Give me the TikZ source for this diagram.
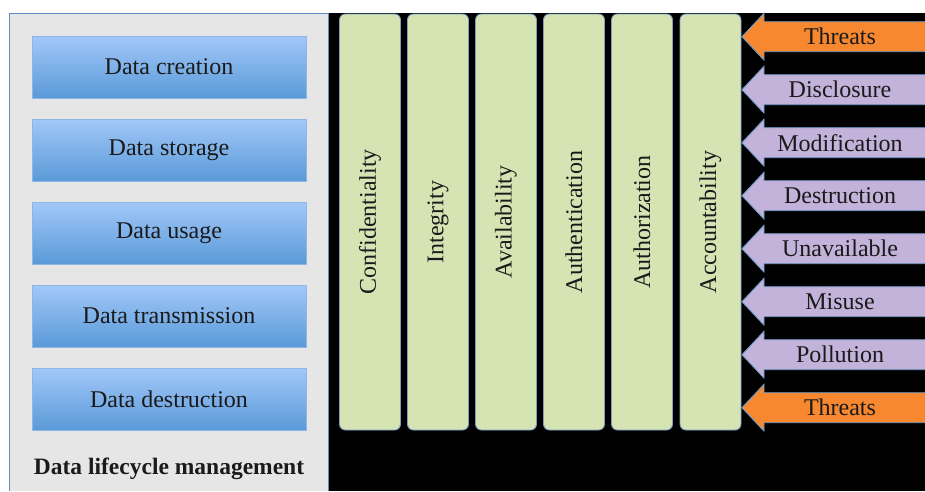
\documentclass[tikz,border=0pt]{standalone}
\usepackage{fontspec}
\setmainfont{Liberation Serif}
\definecolor{panelgray}{HTML}{E6E6E6}
\definecolor{panelline}{HTML}{5E8DC8}
\definecolor{boxtop}{HTML}{A2C8F9}
\definecolor{boxbot}{HTML}{5A9AD8}
\definecolor{boxline}{HTML}{8DB6E6}
\definecolor{colgreen}{HTML}{D6E4B4}
\definecolor{colline}{HTML}{7B9FC9}
\definecolor{thorange}{HTML}{F7882F}
\definecolor{thlav}{HTML}{C3B2D9}
\definecolor{arrline}{HTML}{6E9CCB}
\definecolor{txt}{HTML}{1A1A1A}
\tikzset{
  lifebox/.style={draw=boxline, line width=0.8pt, top color=boxtop, bottom color=boxbot,
    minimum width=274pt, minimum height=62pt, inner sep=0pt, text=txt,
    font=\fontsize{24}{28}\selectfont},
  pillar/.style={draw=colline, line width=0.9pt, fill=colgreen, rounded corners=6pt,
    minimum width=416pt, minimum height=61pt, inner sep=0pt, rotate=90, text=txt,
    font=\fontsize{24}{28}\selectfont},
  arrtext/.style={inner sep=0pt, text=txt, font=\fontsize{24}{28}\selectfont},
  arrfill/.style={line width=0.9pt, draw=arrline}
}
\newcommand{\threatarrow}[4]{%
  \fill[#2] (925,#1-15) -- (764,#1-15) -- (764,#1-23.4) -- (742,#1) -- (764,#1+23.4) -- (764,#1+15) -- (925,#1+15) -- cycle;
  \draw[arrfill] (925,#1-15) -- (764,#1-15) -- (764,#1-23.4) -- (742,#1) -- (764,#1+23.4) -- (764,#1+15) -- (925,#1+15);
  \node[arrtext] (#4) at (840,#1) {#3};
}
\begin{document}
\begin{tikzpicture}[x=1pt,y=-1pt]
\useasboundingbox (0,0) rectangle (925,491);
\fill[white] (0,0) rectangle (925,491);
% black area
\fill[black] (328,13) rectangle (925,491);
% gray panel
\fill[panelgray] (9.5,13.5) rectangle (328,491);
\draw[panelline, line width=0.9pt] (9.5,491) -- (9.5,13.5) -- (328,13.5) -- (328,491);
% lifecycle boxes
\node[lifebox] (create) at (169,67) {Data creation};
\node[lifebox] (store) at (169,150) {Data storage};
\node[lifebox] (usage) at (169,233) {Data usage};
\node[lifebox] (trans) at (169,316) {Data transmission};
\node[lifebox] (destr) at (169,399) {Data destruction};
\node[inner sep=0pt, text=txt, font=\fontsize{23.5}{28}\selectfont\bfseries] (dlm) at (169,469) {Data lifecycle management};
% pillars
\node[pillar] (conf) at (370,222) {Confidentiality};
\node[pillar] (integ) at (438,222) {Integrity};
\node[pillar] (avail) at (506,222) {Availability};
\node[pillar] (authn) at (574,222) {Authentication};
\node[pillar] (authz) at (642,222) {Authorization};
\node[pillar] (acct) at (710.5,222) {Accountability};
% threat arrows
\threatarrow{36.7}{thorange}{Threats}{threats1}
\threatarrow{89.7}{thlav}{Disclosure}{discl}
\threatarrow{142.7}{thlav}{Modification}{modif}
\threatarrow{195.7}{thlav}{Destruction}{destrt}
\threatarrow{248.7}{thlav}{Unavailable}{unav}
\threatarrow{301.7}{thlav}{Misuse}{misuse}
\threatarrow{354.7}{thlav}{Pollution}{pollu}
\threatarrow{407.7}{thorange}{Threats}{threats2}
\end{tikzpicture}
\end{document}
